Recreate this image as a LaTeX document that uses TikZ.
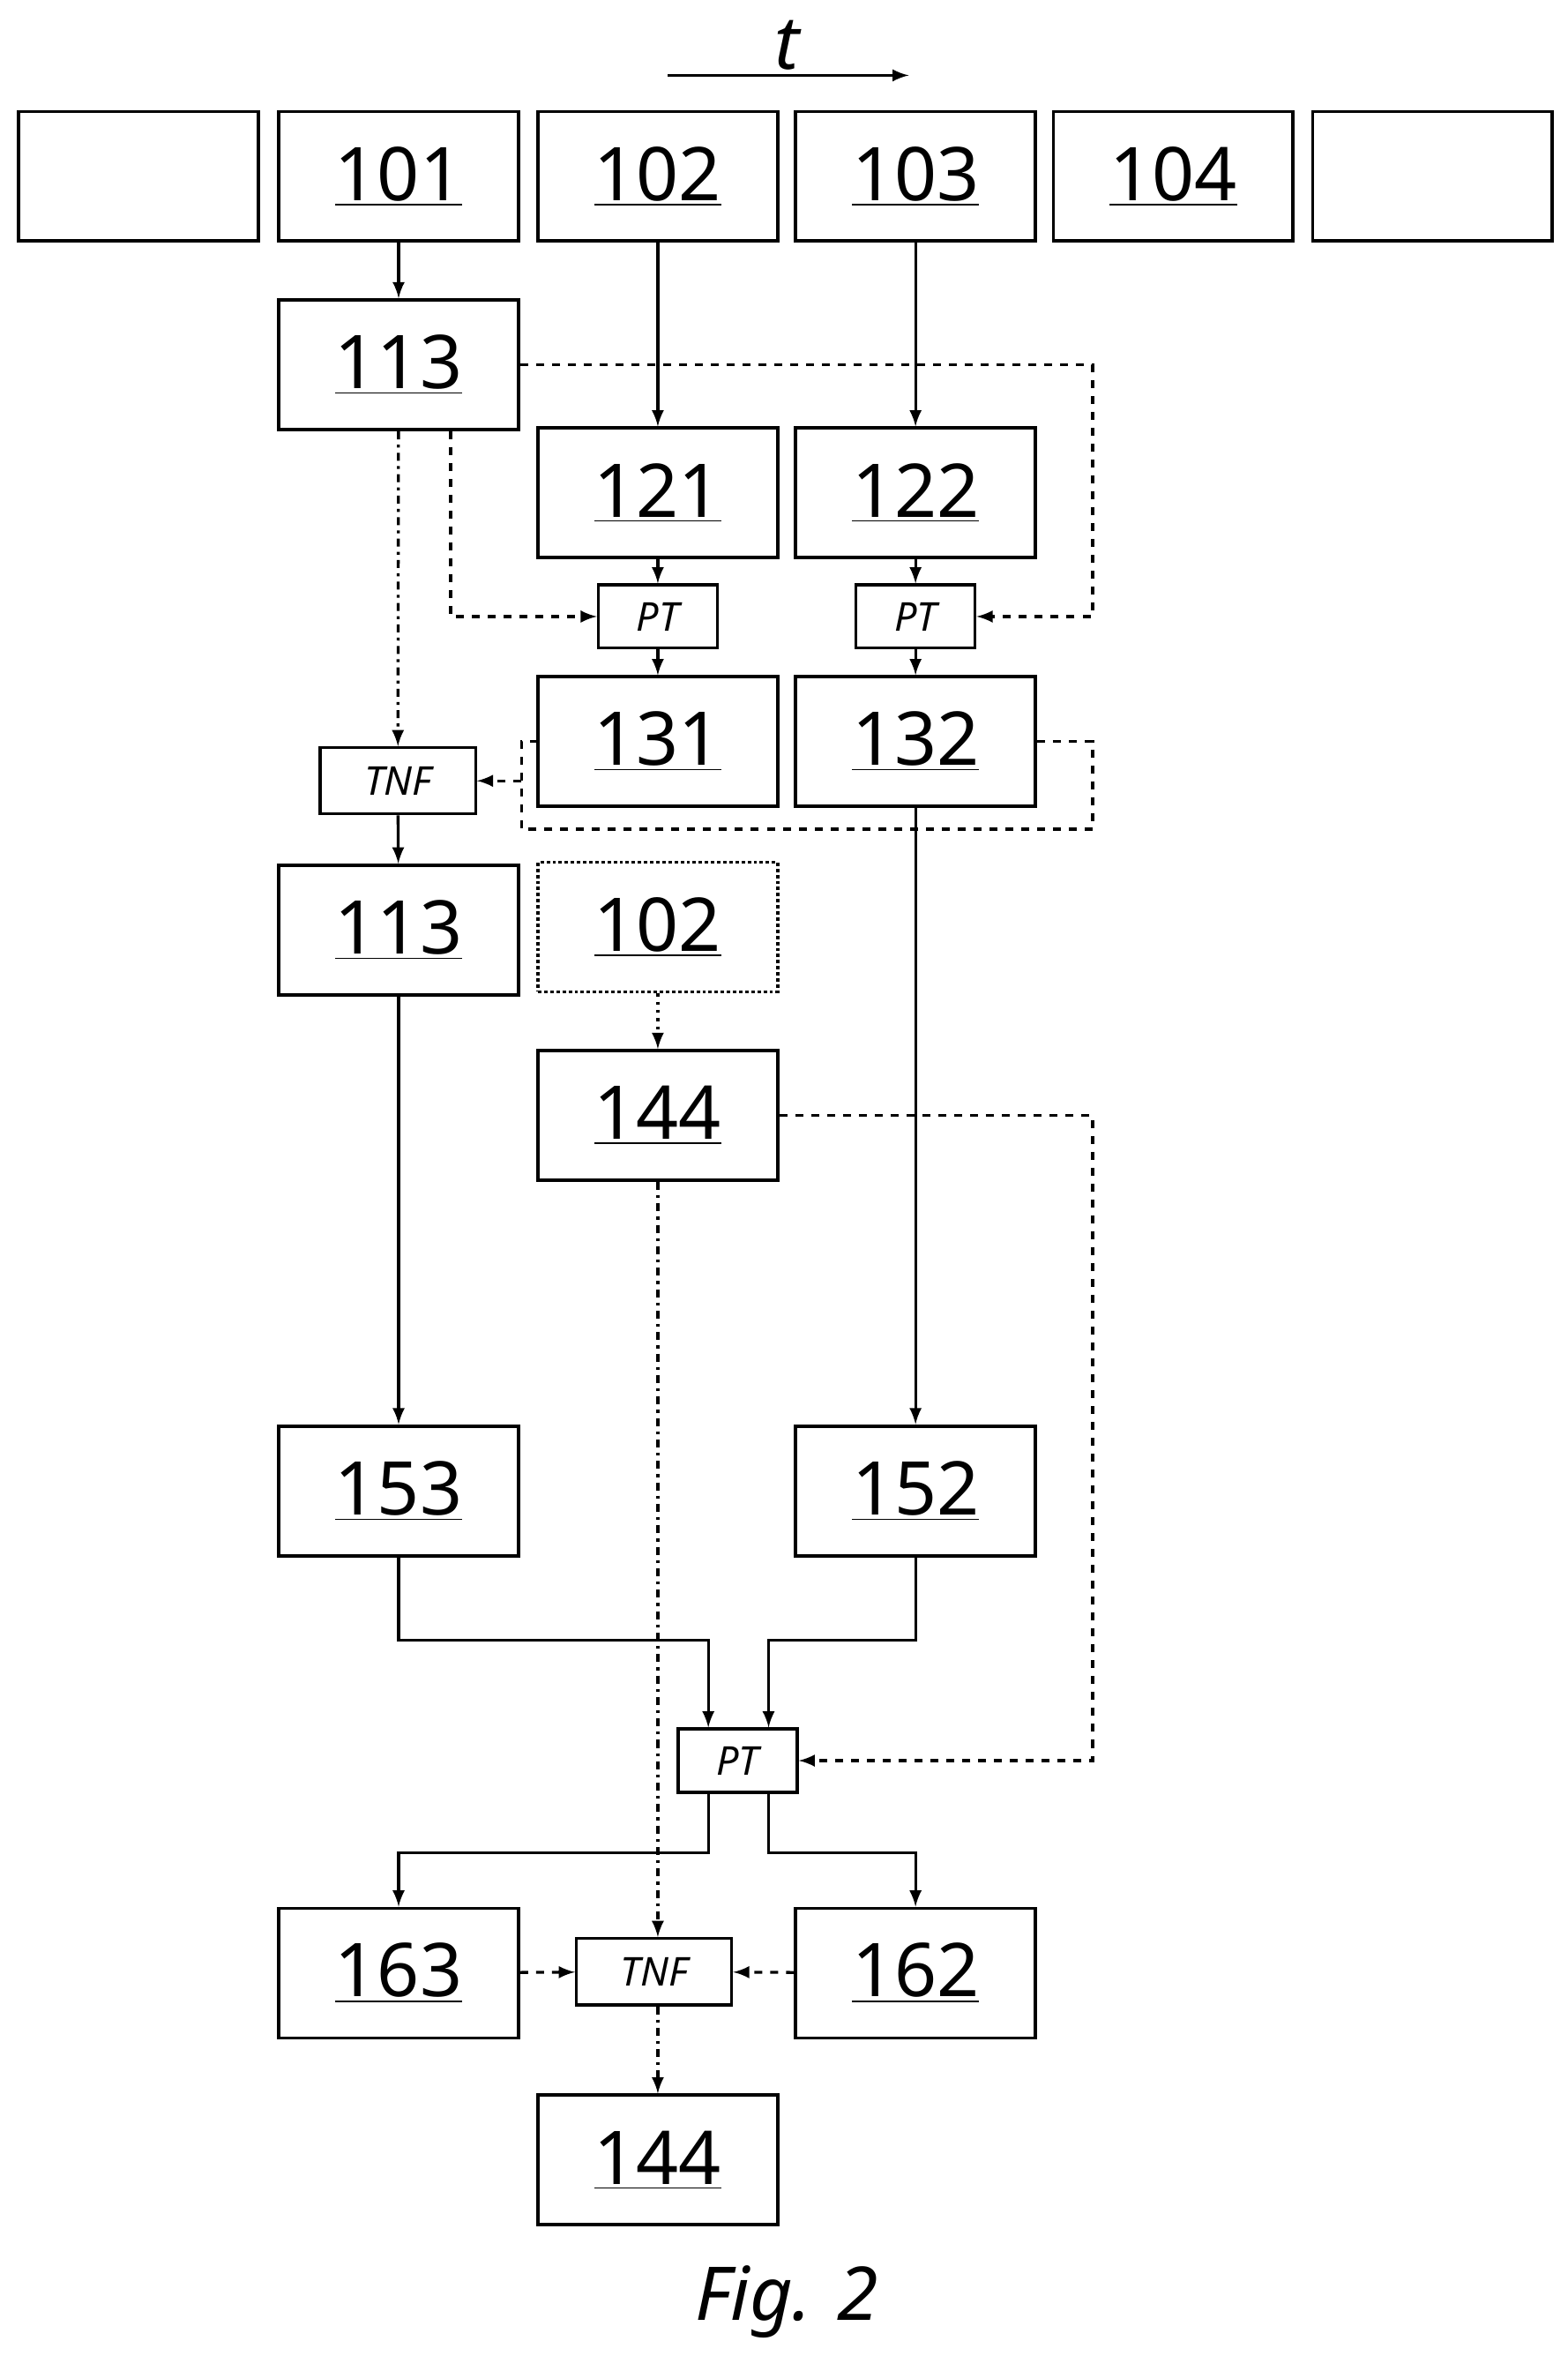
\documentclass[tikz,border=0pt]{standalone}
\usepackage{fontspec}
\setmainfont{Noto Sans}
\usetikzlibrary{arrows,positioning}
\begin{document}
\begin{tikzpicture}[x=0.2mm,y=-0.2mm]
	\tikzstyle{Box}   = [draw, line width=1.3pt, minimum width=31.8mm, minimum height=17.2mm, inner sep=0pt, font=\fontsize{28}{30}\selectfont]
	\tikzstyle{Small} = [draw, line width=1.1pt, minimum width=15.8mm, minimum height=8.4mm, inner sep=0pt, font=\fontsize{15}{16}\selectfont\itshape]
	\tikzstyle{Wide}  = [Small, minimum width=20.6mm, minimum height=8.8mm]
	\tikzstyle{Sol}   = [line width=1.1pt, -latex]
	\tikzstyle{Dsh}   = [line width=1.1pt, -latex, dashed]
	\tikzstyle{DDt}   = [line width=1.1pt, -latex, dash dot]
	\tikzstyle{Dot}   = [line width=1.1pt, -latex, dotted]

	\useasboundingbox (0,0) rectangle (1040,1563);

	% time axis
	\draw [Sol] (443,50) -- (603,50);
	\node at (522,30) {\fontsize{28}{30}\selectfont\itshape t};

	% top row of frames
	\foreach \x/\n/\t in {92/f0/, 264.5/f101/101, 436.5/f102/102, 607.5/f103/103, 778.5/f104/104, 950.5/f105/}
		\node (\n) at (\x,117) [Box] {\underline{\t}};

	\node (a113) at (264.5,242) [Box] {\underline{113}};
	\node (b121) at (436.5,327) [Box] {\underline{121}};
	\node (b122) at (607.5,327) [Box] {\underline{122}};
	\node (pt1) at (436.5,409) [Small] {PT};
	\node (pt2) at (607.5,409) [Small] {PT};
	\node (c131) at (436.5,492) [Box] {\underline{131}};
	\node (c132) at (607.5,492) [Box] {\underline{132}};
	\node (tnf1) at (264,518) [Wide] {TNF};
	\node (b113) at (264.5,617) [Box] {\underline{113}};
	\node (d102) at (436.5,615) [Box, densely dotted] {\underline{102}};
	\node (e144) at (436.5,740) [Box] {\underline{144}};
	\node (f153) at (264.5,989) [Box] {\underline{153}};
	\node (f152) at (607.5,989) [Box] {\underline{152}};
	\node (pt3) at (489.5,1168) [Small] {PT};
	\node (g163) at (264.5,1309) [Box] {\underline{163}};
	\node (tnf2) at (434,1308) [Wide] {TNF};
	\node (g162) at (607.5,1309) [Box] {\underline{162}};
	\node (h144) at (436.5,1433) [Box] {\underline{144}};
	\node at (522,1527) {\fontsize{28}{30}\selectfont\itshape Fig. 2};

	% solid flow
	\draw [Sol] (f101) -- (a113);
	\draw [Sol] (f102) -- (b121);
	\draw [Sol] (f103) -- (b122);
	\draw [Sol] (b121) -- (pt1);
	\draw [Sol] (pt1) -- (c131);
	\draw [Sol] (b122) -- (pt2);
	\draw [Sol] (pt2) -- (c132);
	\draw [Sol] (tnf1) -- (b113);
	\draw [Sol] (b113) -- (f153);
	\draw [Sol] (c132) -- (f152);
	\draw [Sol] (f153.south) |- (470,1088) -- (pt3.north -| 470,0);
	\draw [Sol] (f152.south) |- (510,1088) -- (pt3.north -| 510,0);
	\draw [Sol] (pt3.south -| 470,0) |- (264.5,1229) -- (g163);
	\draw [Sol] (pt3.south -| 510,0) |- (607.5,1229) -- (g162);

	% dashed flow
	\draw [Dsh] (a113.east) -| (725,409) -- (pt2.east);
	\draw [Dsh] (a113.south -| 299,0) |- (pt1.west);
	\draw [Dsh, -] (c132.east) -| (725,550) -| (346,492) -- (c131.west);
	\draw [Dsh] (346,518) -- (tnf1.east);
	\draw [Dsh] (e144.east) -| (725,1168) -- (pt3.east);
	\draw [Dsh] (g163) -- (tnf2);
	\draw [Dsh] (g162) -- (tnf2);

	% dash-dot and dotted flow
	\draw [DDt] (a113) -- (tnf1);
	\draw [DDt] (e144) -- (e144 |- tnf2.north);
	\draw [DDt] (tnf2.south -| h144) -- (h144);
	\draw [Dot] (d102) -- (e144);
\end{tikzpicture}
\end{document}
